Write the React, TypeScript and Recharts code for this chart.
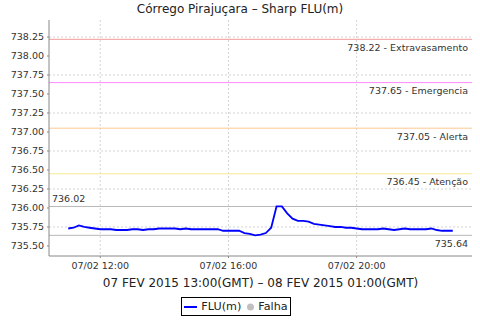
import React from 'react';
import {
  LineChart, Line, XAxis, YAxis, CartesianGrid, ReferenceLine, ReferenceArea, Legend,
} from 'recharts';

const times = [
  '11:00', '11:10', '11:20', '11:30', '11:40', '11:50',
  '12:00', '12:10', '12:20', '12:30', '12:40', '12:50',
  '13:00', '13:10', '13:20', '13:30', '13:40', '13:50',
  '14:00', '14:10', '14:20', '14:30', '14:40', '14:50',
  '15:00', '15:10', '15:20', '15:30', '15:40', '15:50',
  '16:00', '16:10', '16:20', '16:30', '16:40', '16:50',
  '17:00', '17:10', '17:20', '17:30', '17:40', '17:50',
  '18:00', '18:10', '18:20', '18:30', '18:40', '18:50',
  '19:00', '19:10', '19:20', '19:30', '19:40', '19:50',
  '20:00', '20:10', '20:20', '20:30', '20:40', '20:50',
  '21:00', '21:10', '21:20', '21:30', '21:40', '21:50',
  '22:00', '22:10', '22:20', '22:30', '22:40', '22:50',
  '23:00',
];

const flu = [
  735.73, 735.74, 735.77, 735.75, 735.74, 735.73,
  735.72, 735.72, 735.72, 735.71, 735.71, 735.71,
  735.72, 735.72, 735.71, 735.72, 735.72, 735.73,
  735.73, 735.73, 735.73, 735.72, 735.73, 735.72,
  735.72, 735.72, 735.72, 735.72, 735.72, 735.70,
  735.70, 735.70, 735.70, 735.67, 735.66, 735.64,
  735.65, 735.67, 735.74, 736.02, 736.02, 735.93,
  735.86, 735.83, 735.83, 735.82, 735.79, 735.78,
  735.77, 735.76, 735.75, 735.75, 735.74, 735.74,
  735.73, 735.72, 735.72, 735.72, 735.72, 735.73,
  735.72, 735.71, 735.72, 735.73, 735.72, 735.72,
  735.72, 735.72, 735.73, 735.71, 735.70, 735.70,
  735.70,
];

const yTicks = [735.5, 735.75, 736.0, 736.25, 736.5, 736.75, 737.0, 737.25, 737.5, 737.75, 738.0, 738.25];
const xTicks = [12, 16, 20];
const xTickDate = '07/02';

const thresholds = [
  { value: 738.22, label: 'Extravasamento', color: '#f29a9a' },
  { value: 737.65, label: 'Emergencia', color: '#ff88ff' },
  { value: 737.05, label: 'Alerta', color: '#ffc98e' },
  { value: 736.45, label: 'Atenção', color: '#f7ea92' },
];
const maxValue = 736.02;
const minValue = 735.64;

const title = 'Córrego Pirajuçara – Sharp FLU(m)';
const xLabel = '07 FEV 2015 13:00(GMT) – 08 FEV 2015 01:00(GMT)';
const seriesName = 'FLU(m)';
const failName = 'Falha';

const toHours = (t: string) => {
  const [h, m] = t.split(':').map(Number);
  return h + m / 60;
};

const data = times.map((t, i) => ({ t: toHours(t), flu: flu[i] }));

const FONT = 'DejaVu Sans';

const RightLabel = (text: string) => (props: any) => {
  const { viewBox } = props;
  return (
    <text x={viewBox.x + viewBox.width - 4} y={viewBox.y + 11.5} textAnchor="end"
      fontSize={9.5} fill="#333" fontFamily={FONT}>{text}</text>
  );
};

const LeftTopLabel = (text: string) => (props: any) => {
  const { viewBox } = props;
  return (
    <text x={viewBox.x + 3} y={viewBox.y - 4.5} textAnchor="start"
      fontSize={9.5} fill="#333" fontFamily={FONT}>{text}</text>
  );
};

const XLabel = (props: any) => {
  const { viewBox } = props;
  return (
    <text x={viewBox.x + viewBox.width / 2} y={286.5} textAnchor="middle"
      fontSize={12} fill="#222" fontFamily={FONT}>{xLabel}</text>
  );
};

const LegendContent = () => (
  <div style={{ display: 'flex', justifyContent: 'center' }}>
    <div style={{
      boxSizing: 'border-box', height: 19, border: '1px solid #000', display: 'flex',
      alignItems: 'center', padding: '0 2px', fontFamily: FONT, fontSize: 11.2, color: '#222', background: '#fff',
    }}>
      <svg width={13} height={10} style={{ marginRight: 4 }}>
        <line x1={0} y1={5} x2={13} y2={5} stroke="#0000ff" strokeWidth={2} />
      </svg>
      <span>{seriesName}</span>
      <svg width={9} height={10} style={{ marginLeft: 5, marginRight: 3 }}>
        <circle cx={4.5} cy={5} r={3.5} fill="#c0c0c0" />
      </svg>
      <span>{failName}</span>
    </div>
  </div>
);

export default function App() {
  return (
    <div style={{ position: 'absolute', left: 0, top: 0, width: 480, height: 320, background: '#fff' }}>
      <LineChart width={480} height={320} data={data}
        margin={{ top: 20, right: 8, left: 0, bottom: 4 }}
        style={{ fontFamily: FONT }}>
        <text x={240} y={13} textAnchor="middle" fontSize={12} fill="#222" fontFamily={FONT}>{title}</text>
        <CartesianGrid stroke="#d4d4d4" strokeDasharray="2 2" verticalValues={xTicks} horizontalValues={yTicks} />
        <XAxis type="number" dataKey="t" domain={[10.4, 23.6]} ticks={xTicks} allowDataOverflow
          tickFormatter={(v: number) => `${xTickDate} ${String(v).padStart(2, '0')}:00`}
          tick={{ fontSize: 9.5, fill: '#333', fontFamily: FONT }}
          tickSize={2} tickMargin={4} height={41} stroke="#888"
          label={<XLabel />} />
        <YAxis type="number" domain={[735.368, 738.474]} ticks={yTicks} allowDataOverflow
          tickFormatter={(v: number) => v.toFixed(2)}
          tick={{ fontSize: 9.5, fill: '#333', fontFamily: FONT }}
          tickSize={2} tickMargin={3} width={49} stroke="#888" />
        <ReferenceArea fill="none" stroke="#b8b8b8" strokeWidth={1} />
        {thresholds.map((th) => (
          <ReferenceLine key={th.label} y={th.value} stroke={th.color} strokeWidth={1}
            label={RightLabel(`${th.value.toFixed(2)} - ${th.label}`)} />
        ))}
        <ReferenceLine y={maxValue} stroke="#b8b8b8" strokeWidth={1}
          label={LeftTopLabel(maxValue.toFixed(2))} />
        <ReferenceLine y={minValue} stroke="#b8b8b8" strokeWidth={1}
          label={RightLabel(minValue.toFixed(2))} />
        <Line type="linear" dataKey="flu" name={seriesName} stroke="#0000ff" strokeWidth={1.8}
          dot={false} isAnimationActive={false} />
        <Legend verticalAlign="bottom" content={<LegendContent />} />
      </LineChart>
    </div>
  );
}
